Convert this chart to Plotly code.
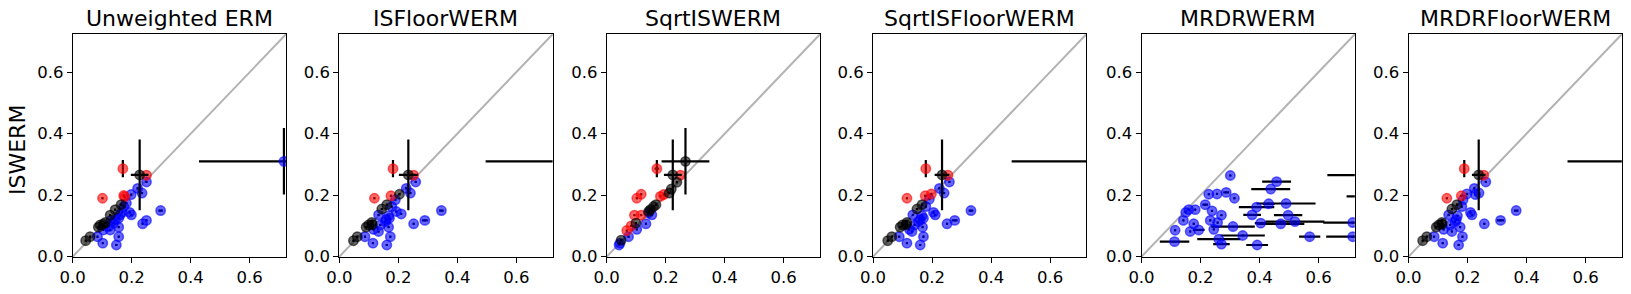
import plotly.graph_objects as go

FIG_W, FIG_H = 1631, 294
AX_MAX = 0.723
TICKS = [0.0, 0.2, 0.4, 0.6]
TICK_TEXT = ["0.0", "0.2", "0.4", "0.6"]
TITLES = ["Unweighted ERM", "ISFloorWERM", "SqrtISWERM",
          "SqrtISFloorWERM", "MRDRWERM", "MRDRFloorWERM"]
Y_LABEL = "ISWERM"
E = 0.003  # tiny error (shows as a dot)

# rows: (x, y, x_err, y_err, colour)
UNWEIGHTED_ERM = [
    (0.250, 0.243, E, E, 'b'), (0.220, 0.222, E, E, 'b'), (0.235, 0.207, E, E, 'b'),
    (0.198, 0.202, E, E, 'b'), (0.182, 0.174, E, E, 'b'), (0.173, 0.163, E, E, 'b'),
    (0.193, 0.144, E, E, 'b'), (0.199, 0.136, E, E, 'b'), (0.161, 0.136, E, E, 'b'),
    (0.156, 0.125, E, E, 'b'), (0.139, 0.109, E, E, 'b'), (0.122, 0.098, E, E, 'b'),
    (0.104, 0.087, E, E, 'b'), (0.127, 0.087, E, E, 'b'), (0.156, 0.096, E, E, 'b'),
    (0.084, 0.065, E, E, 'b'), (0.102, 0.044, E, E, 'b'), (0.148, 0.038, E, E, 'b'),
    (0.156, 0.065, E, E, 'b'), (0.237, 0.107, E, E, 'b'), (0.250, 0.118, E, E, 'b'),
    (0.298, 0.150, 0.008, E, 'b'), (0.130, 0.118, E, E, 'b'), (0.167, 0.144, E, E, 'b'),
    (0.145, 0.120, E, E, 'b'), (0.716, 0.310, 0.288, 0.108, 'b'),
    (0.170, 0.286, E, 0.028, 'r'), (0.173, 0.199, E, E, 'r'), (0.176, 0.195, E, E, 'r'),
    (0.101, 0.190, E, E, 'r'), (0.250, 0.265, E, E, 'r'),
    (0.227, 0.266, 0.030, 0.115, 'k'), (0.044, 0.052, E, E, 'k'), (0.059, 0.065, E, E, 'k'),
    (0.087, 0.096, E, E, 'k'), (0.093, 0.103, E, E, 'k'), (0.104, 0.106, E, E, 'k'),
    (0.110, 0.111, E, E, 'k'), (0.127, 0.135, E, E, 'k'), (0.144, 0.153, E, E, 'k'),
    (0.164, 0.169, E, E, 'k'),
]

IS_FLOOR_WERM = [
    (0.259, 0.243, E, E, 'b'), (0.227, 0.222, E, E, 'b'), (0.241, 0.207, E, E, 'b'),
    (0.190, 0.185, E, E, 'b'), (0.178, 0.163, E, E, 'b'), (0.193, 0.147, E, E, 'b'),
    (0.210, 0.139, E, E, 'b'), (0.167, 0.133, E, E, 'b'), (0.159, 0.120, E, E, 'b'),
    (0.133, 0.136, E, E, 'b'), (0.139, 0.103, E, E, 'b'), (0.116, 0.089, E, E, 'b'),
    (0.133, 0.082, E, E, 'b'), (0.167, 0.096, E, E, 'b'), (0.087, 0.065, E, E, 'b'),
    (0.114, 0.044, E, E, 'b'), (0.161, 0.038, E, E, 'b'), (0.173, 0.065, E, E, 'b'),
    (0.252, 0.107, E, E, 'b'), (0.290, 0.118, 0.010, E, 'b'), (0.346, 0.150, 0.008, E, 'b'),
    (0.156, 0.114, E, E, 'b'), (0.170, 0.125, E, E, 'b'), (0.790, 0.310, 0.294, 0.108, 'b'),
    (0.182, 0.286, E, 0.028, 'r'), (0.119, 0.190, E, E, 'r'), (0.175, 0.198, E, E, 'r'),
    (0.252, 0.265, E, E, 'r'),
    (0.234, 0.266, 0.032, 0.115, 'k'), (0.048, 0.052, E, E, 'k'), (0.061, 0.065, E, E, 'k'),
    (0.091, 0.096, E, E, 'k'), (0.099, 0.103, E, E, 'k'), (0.110, 0.111, E, E, 'k'),
    (0.112, 0.104, E, 0.015, 'k'), (0.144, 0.155, E, E, 'k'), (0.161, 0.169, E, E, 'k'),
    (0.204, 0.203, E, E, 'k'),
]

SQRT_IS_WERM = [
    (0.142, 0.142, E, E, 'b'), (0.153, 0.136, E, E, 'b'), (0.133, 0.107, E, E, 'b'),
    (0.102, 0.089, E, E, 'b'), (0.074, 0.065, E, E, 'b'), (0.042, 0.038, E, E, 'b'),
    (0.045, 0.044, E, E, 'b'),
    (0.170, 0.286, 0.008, 0.028, 'r'), (0.250, 0.265, E, E, 'r'), (0.193, 0.202, E, E, 'r'),
    (0.182, 0.196, E, E, 'r'), (0.117, 0.203, E, E, 'r'), (0.102, 0.190, E, E, 'r'),
    (0.094, 0.135, E, E, 'r'), (0.117, 0.135, E, E, 'r'), (0.083, 0.100, E, E, 'r'),
    (0.068, 0.085, E, E, 'r'),
    (0.267, 0.310, 0.081, 0.108, 'k'), (0.224, 0.266, 0.030, 0.115, 'k'),
    (0.238, 0.242, E, E, 'k'), (0.219, 0.220, E, E, 'k'), (0.212, 0.207, E, E, 'k'),
    (0.167, 0.169, E, E, 'k'), (0.159, 0.163, E, E, 'k'), (0.148, 0.153, E, E, 'k'),
    (0.099, 0.109, E, E, 'k'), (0.049, 0.054, E, E, 'k'), (0.142, 0.147, E, E, 'k'),
]

SQRT_IS_FLOOR_WERM = [
    (0.259, 0.243, E, E, 'b'), (0.225, 0.222, E, E, 'b'), (0.241, 0.207, E, E, 'b'),
    (0.191, 0.187, E, E, 'b'), (0.179, 0.163, E, E, 'b'), (0.205, 0.144, E, E, 'b'),
    (0.211, 0.136, E, E, 'b'), (0.166, 0.133, E, E, 'b'), (0.160, 0.120, E, E, 'b'),
    (0.135, 0.136, E, E, 'b'), (0.141, 0.103, E, E, 'b'), (0.123, 0.089, E, E, 'b'),
    (0.132, 0.082, E, E, 'b'), (0.168, 0.096, E, E, 'b'), (0.089, 0.065, E, E, 'b'),
    (0.115, 0.044, E, E, 'b'), (0.160, 0.038, E, E, 'b'), (0.171, 0.065, E, E, 'b'),
    (0.251, 0.107, E, E, 'b'), (0.277, 0.118, 0.010, E, 'b'), (0.332, 0.150, 0.008, E, 'b'),
    (0.154, 0.114, E, E, 'b'), (0.171, 0.125, E, E, 'b'), (0.760, 0.310, 0.290, 0.108, 'b'),
    (0.179, 0.286, E, 0.028, 'r'), (0.115, 0.190, E, E, 'r'), (0.177, 0.198, E, E, 'r'),
    (0.198, 0.204, E, E, 'r'), (0.254, 0.265, E, E, 'r'),
    (0.234, 0.266, 0.025, 0.115, 'k'), (0.050, 0.052, E, E, 'k'), (0.064, 0.065, E, E, 'k'),
    (0.092, 0.096, E, E, 'k'), (0.100, 0.103, E, E, 'k'), (0.115, 0.111, E, E, 'k'),
    (0.112, 0.104, E, 0.015, 'k'), (0.149, 0.155, E, E, 'k'), (0.166, 0.169, E, E, 'k'),
]

MRDR_WERM = [
    (0.301, 0.264, E, E, 'b'), (0.458, 0.244, 0.049, E, 'b'), (0.438, 0.220, 0.066, E, 'b'),
    (0.228, 0.203, E, E, 'b'), (0.256, 0.204, E, E, 'b'), (0.287, 0.209, 0.010, E, 'b'),
    (0.315, 0.190, E, E, 'b'), (0.216, 0.169, 0.010, E, 'b'), (0.239, 0.149, E, E, 'b'),
    (0.271, 0.135, E, E, 'b'), (0.233, 0.118, E, E, 'b'), (0.258, 0.111, E, E, 'b'),
    (0.245, 0.089, E, E, 'b'), (0.310, 0.098, 0.074, E, 'b'), (0.182, 0.153, E, E, 'b'),
    (0.160, 0.153, E, E, 'b'), (0.150, 0.144, E, E, 'b'), (0.142, 0.118, E, E, 'b'),
    (0.177, 0.107, E, E, 'b'), (0.165, 0.082, E, E, 'b'), (0.194, 0.087, 0.020, E, 'b'),
    (0.114, 0.086, E, E, 'b'), (0.112, 0.049, 0.050, E, 'b'), (0.262, 0.057, 0.073, E, 'b'),
    (0.271, 0.041, 0.028, E, 'b'), (0.343, 0.069, 0.075, E, 'b'), (0.392, 0.038, 0.037, E, 'b'),
    (0.375, 0.136, 0.030, E, 'b'), (0.390, 0.161, 0.060, E, 'b'), (0.431, 0.172, 0.020, E, 'b'),
    (0.490, 0.173, 0.100, E, 'b'), (0.497, 0.135, 0.048, E, 'b'), (0.404, 0.109, 0.020, E, 'b'),
    (0.472, 0.107, 0.080, E, 'b'), (0.520, 0.114, 0.100, E, 'b'), (0.570, 0.065, 0.036, E, 'b'),
    (0.716, 0.111, 0.100, E, 'b'), (0.716, 0.065, 0.090, E, 'b'), (0.800, 0.265, 0.170, E, 'b'),
    (0.780, 0.196, 0.085, E, 'b'),
]

MRDR_FLOOR_WERM = [
    (0.262, 0.243, E, E, 'b'), (0.223, 0.222, E, E, 'b'), (0.239, 0.207, E, E, 'b'),
    (0.227, 0.202, E, E, 'b'), (0.198, 0.204, E, E, 'b'), (0.185, 0.185, E, E, 'b'),
    (0.181, 0.163, E, E, 'b'), (0.210, 0.144, E, E, 'b'), (0.215, 0.136, E, E, 'b'),
    (0.166, 0.133, E, E, 'b'), (0.162, 0.120, E, E, 'b'), (0.136, 0.136, E, E, 'b'),
    (0.141, 0.103, E, E, 'b'), (0.119, 0.089, E, E, 'b'), (0.147, 0.082, E, E, 'b'),
    (0.175, 0.096, E, E, 'b'), (0.087, 0.065, E, E, 'b'), (0.116, 0.044, E, E, 'b'),
    (0.170, 0.038, E, E, 'b'), (0.183, 0.065, E, E, 'b'), (0.257, 0.107, E, E, 'b'),
    (0.312, 0.118, 0.012, E, 'b'), (0.365, 0.150, 0.008, E, 'b'), (0.158, 0.114, E, E, 'b'),
    (0.830, 0.310, 0.291, 0.108, 'b'),
    (0.189, 0.286, E, 0.028, 'r'), (0.130, 0.190, E, E, 'r'), (0.179, 0.198, E, E, 'r'),
    (0.255, 0.265, E, E, 'r'),
    (0.238, 0.266, 0.023, 0.115, 'k'), (0.048, 0.052, E, E, 'k'), (0.062, 0.065, E, E, 'k'),
    (0.094, 0.096, E, E, 'k'), (0.102, 0.103, E, E, 'k'), (0.113, 0.111, E, E, 'k'),
    (0.114, 0.106, E, 0.015, 'k'), (0.147, 0.155, E, E, 'k'), (0.164, 0.169, E, E, 'k'),
]

PANELS = [UNWEIGHTED_ERM, IS_FLOOR_WERM, SQRT_IS_WERM,
          SQRT_IS_FLOOR_WERM, MRDR_WERM, MRDR_FLOOR_WERM]

COLORS = {'b': 'rgba(0,0,255,0.6)', 'r': 'rgba(255,0,0,0.6)', 'k': 'rgba(0,0,0,0.6)'}

# layout (pixels)
LEFTS = [72.7, 339.3, 606.7, 873.0, 1141.5, 1408.5]
PW = 213.3
TOP, BOTTOM = 34.3, 256.7
FONT = "DejaVu Sans"

fig = go.Figure()
layout = dict(
    width=FIG_W, height=FIG_H,
    margin=dict(l=0, r=0, t=0, b=0, pad=0, autoexpand=False),
    paper_bgcolor="white", plot_bgcolor="white", showlegend=False,
    font=dict(family=FONT, color="black"),
)
shapes, annotations = [], []

for i, rows in enumerate(PANELS):
    n = i + 1
    xs = "" if n == 1 else str(n)
    for c in ['b', 'r', 'k']:
        sel = [r for r in rows if r[4] == c]
        if not sel:
            continue
        fig.add_trace(go.Scatter(
            x=[r[0] for r in sel], y=[r[1] for r in sel],
            mode="markers", xaxis="x" + xs, yaxis="y" + xs,
            marker=dict(size=9.4, color=COLORS[c],
                        line=dict(color=COLORS[c], width=1.5)),
            error_x=dict(type="data", array=[r[2] for r in sel], color="black",
                         thickness=2.2, width=0),
            error_y=dict(type="data", array=[r[3] for r in sel], color="black",
                         thickness=2.2, width=0),
            hoverinfo="skip",
        ))
    ax = dict(range=[0, AX_MAX], tickvals=TICKS, ticktext=TICK_TEXT,
              ticks="outside", ticklen=5, tickwidth=1, tickcolor="black",
              showline=True, linecolor="black", linewidth=1, mirror=True,
              showgrid=False, zeroline=False, automargin=False,
              tickfont=dict(family=FONT, size=16.5, color="black"))
    layout["xaxis" + xs] = dict(ax, domain=[LEFTS[i] / FIG_W, (LEFTS[i] + PW) / FIG_W],
                                anchor="y" + xs)
    layout["yaxis" + xs] = dict(ax, domain=[(FIG_H - BOTTOM) / FIG_H, (FIG_H - TOP) / FIG_H],
                                anchor="x" + xs)
    shapes.append(dict(type="line", xref=f"x{xs} domain", yref=f"y{xs} domain",
                       x0=0, y0=0, x1=1, y1=1, layer="below",
                       line=dict(color="#b3b3b3", width=2)))
    annotations.append(dict(text=TITLES[i], xref="paper", yref="paper",
                            x=(LEFTS[i] + PW / 2) / FIG_W, y=(FIG_H - 19) / FIG_H,
                            xanchor="center", yanchor="middle", showarrow=False,
                            font=dict(family=FONT, size=22, color="black")))

annotations.append(dict(text=Y_LABEL, xref="paper", yref="paper",
                        x=17 / FIG_W, y=(FIG_H - 150) / FIG_H, textangle=-90,
                        xanchor="center", yanchor="middle", showarrow=False,
                        font=dict(family=FONT, size=22, color="black")))
layout["shapes"] = shapes
layout["annotations"] = annotations
fig.update_layout(**layout)
fig.write_html("out.html", config={"displayModeBar": False},
               post_script="document.body.style.margin='0px';document.body.style.overflow='hidden';")
